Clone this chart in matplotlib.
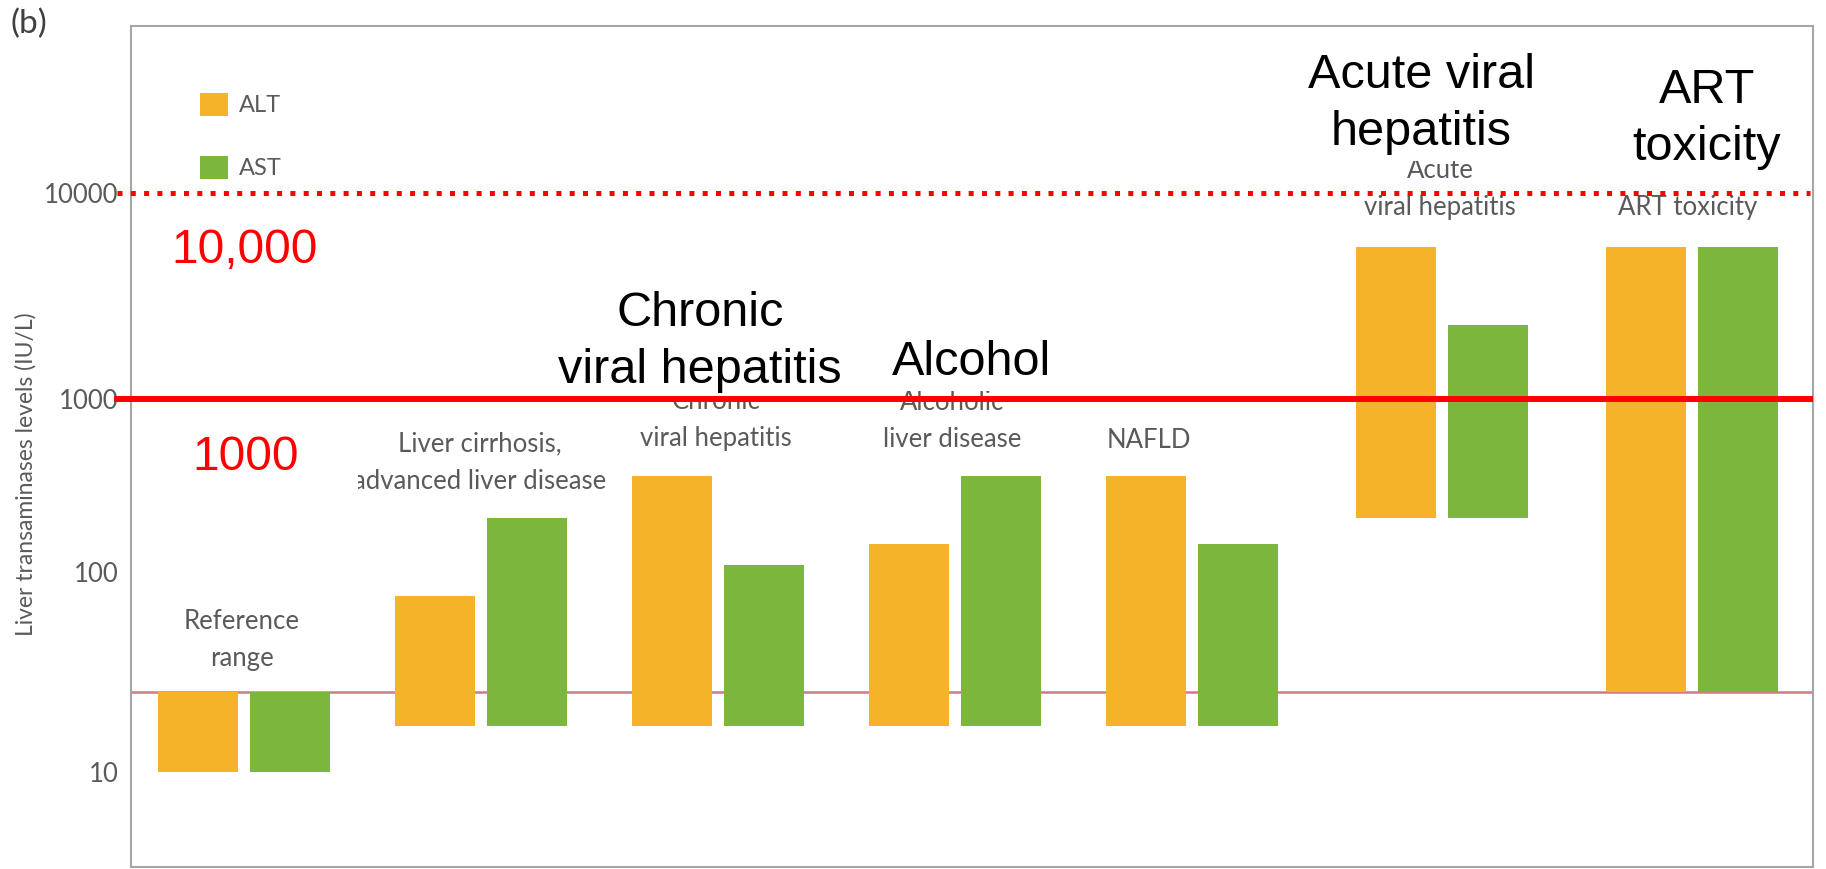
import numpy as np
import matplotlib
matplotlib.use("Agg")
import matplotlib.pyplot as plt
from matplotlib.patches import Rectangle, Patch
import matplotlib.transforms as mtransforms

# ---- data -------------------------------------------------------------
categories = ["Reference\nrange", "Liver cirrhosis,\nadvanced liver disease",
              "Chronic\nviral hepatitis", "Alcoholic\nliver disease", "NAFLD",
              "Acute\nviral hepatitis", "ART toxicity"]
alt_low = [10, 17, 17, 17, 17, 205, 25]
alt_high = [25, 76, 360, 145, 360, 5500, 5500]
ast_low = [10, 17, 17, 17, 17, 205, 25]
ast_high = [25, 205, 110, 360, 145, 2300, 5500]
reference_upper = 25
threshold_1000 = 1000
threshold_10000 = 10000
y_ticks = [10, 100, 1000, 10000]
y_tick_labels = ["10", "100", "1000", "10000"]
callouts = ["Chronic\nviral hepatitis", "Alcohol", "Acute viral\nhepatitis", "ART\ntoxicity"]
series_names = ["ALT", "AST"]

# ---- layout -----------------------------------------------------------
W, H = 1826, 869
AX_L, AX_R, AX_T, AX_B = 131, 1813, 26, 867
UNIT, X0 = 237.0, 244.0           # pixels per category step, first group centre

def ax_y(py):
    return (AX_B - py) / (AX_B - AX_T)

def ax_x(px):
    return (px - AX_L) / (AX_R - AX_L)

def dx(px):
    return (px - X0) / UNIT

# hand-spaced logarithmic axis: each decade gets its own height
decade_log = np.array([0, 1, 2, 3, 4, 5])
decade_pos = -np.array([972, 772, 572, 399, 193, -13], dtype=float)

def y_forward(v):
    v = np.asarray(v, dtype=float)
    with np.errstate(divide="ignore", invalid="ignore"):
        lv = np.log10(np.where(v > 0, v, np.nan))
    return np.interp(lv, decade_log, decade_pos)

def y_inverse(p):
    p = np.asarray(p, dtype=float)
    return 10 ** np.interp(p, decade_pos, decade_log)

group_x = np.array([0, 1, 2, 3, 4, 5.055, 6.11])
bar_w = 80 / UNIT
offset = 46 / UNIT

ALT_C = "#F4B328"
AST_C = "#7DB63D"
GREY = "#5a5a5a"
RED = "#FF0000"

fig = plt.figure(figsize=(W / 100, H / 100), dpi=100)
ax = fig.add_axes([AX_L / W, (H - AX_B) / H, (AX_R - AX_L) / W, (AX_B - AX_T) / H])
ax.set_yscale("function", functions=(y_forward, y_inverse))
ax.set_xlim(dx(AX_L), dx(AX_R))
ax.set_ylim(10 ** 0.525, 10 ** 4.811)

for s in ax.spines.values():
    s.set_color("#a6a6a6")
    s.set_linewidth(1.5)

ax.set_xticks([])
ax.yaxis.set_major_locator(matplotlib.ticker.FixedLocator(y_ticks))
ax.yaxis.set_major_formatter(matplotlib.ticker.FixedFormatter(y_tick_labels))
ax.yaxis.set_minor_locator(matplotlib.ticker.NullLocator())
ax.tick_params(axis="y", length=0, pad=9, labelsize=18.5, labelcolor=GREY)
for t in ax.get_yticklabels():
    t.set_fontfamily("Lato")

# reference upper limit
ax.axhline(reference_upper, color="#cf6b74", lw=1.8, alpha=0.9, zorder=1)

# bars
alt_low_a, alt_high_a = np.array(alt_low), np.array(alt_high)
ast_low_a, ast_high_a = np.array(ast_low), np.array(ast_high)
ax.bar(group_x - offset, alt_high_a - alt_low_a, bottom=alt_low_a, width=bar_w,
       color=ALT_C, linewidth=0, zorder=2)
ax.bar(group_x + offset, ast_high_a - ast_low_a, bottom=ast_low_a, width=bar_w,
       color=AST_C, linewidth=0, zorder=2)

# category labels (baseline of the last line)
bl = mtransforms.blended_transform_factory(ax.transData, ax.transAxes)
label_x = [dx(242), dx(480), dx(716), dx(952), dx(1149), dx(1440), dx(1688)]
label_base = [666, 489, 446, 447, 448, 215, 215]
for lab, lx, lb in zip(categories, label_x, label_base):
    ax.text(lx, ax_y(lb), lab, transform=bl, ha="center", va="baseline",
            multialignment="center", fontsize=18.5, family="Lato", color=GREY,
            linespacing=1.62, zorder=3)

# callouts (baseline of the last line)
call_x = [dx(700), dx(972), dx(1421), dx(1707)]
call_base = [383, 375, 145, 160]
for txt, cx, cb in zip(callouts, call_x, call_base):
    ax.text(cx, ax_y(cb), txt, transform=bl, ha="center", va="baseline",
            multialignment="center", fontsize=35, family="Liberation Sans",
            color="black", linespacing=1.33, zorder=4,
            bbox=dict(boxstyle="square,pad=0.12", facecolor="white", edgecolor="none"))

# threshold lines
x_start, x_end = ax_x(117), ax_x(1810)
ax.axhline(threshold_1000, xmin=x_start, xmax=x_end, color=RED, lw=4.3,
           clip_on=False, zorder=5)
ax.axhline(threshold_10000, xmin=x_start, xmax=x_end, color=RED, lw=3.6,
           linestyle=(0, (1, 1.66)), dash_capstyle="butt", clip_on=False, zorder=5)

# threshold value labels on white boxes
for (y0, y1), txt, cx, base in [((207, 285), "10,000", 245, 263),
                                 ((414, 492), "1000", 246, 470)]:
    ax.add_patch(Rectangle((ax_x(133), ax_y(y1)), ax_x(358) - ax_x(133),
                           ax_y(y0) - ax_y(y1), transform=ax.transAxes,
                           facecolor="white", edgecolor="none", clip_on=False,
                           zorder=3.5))
    ax.text(ax_x(cx), ax_y(base), txt, transform=ax.transAxes, ha="center",
            va="baseline", fontsize=34.5, family="Liberation Sans", color=RED,
            zorder=6)

# legend
handles = [Patch(facecolor=ALT_C, edgecolor="none"), Patch(facecolor=AST_C, edgecolor="none")]
leg = ax.legend(handles, series_names, loc="upper left",
                bbox_to_anchor=(ax_x(200), ax_y(93)), frameon=False,
                prop={"family": "Lato", "size": 17}, handlelength=1.19,
                handleheight=1.1, handletextpad=0.45, labelspacing=1.68,
                borderpad=0, borderaxespad=0)
for t in leg.get_texts():
    t.set_color(GREY)

# axis title and panel letter
fig.text(26 / W, 1 - 474 / H, "Liver transaminases levels (IU/L)", rotation=90,
         ha="center", va="center", fontsize=16.5, family="Lato", color=GREY)
fig.text(29 / W, 1 - 24 / H, "(b)", ha="center", va="center", fontsize=24,
         family="Lato", color="#404040")

fig.savefig("out.png", dpi=100, facecolor="white")
